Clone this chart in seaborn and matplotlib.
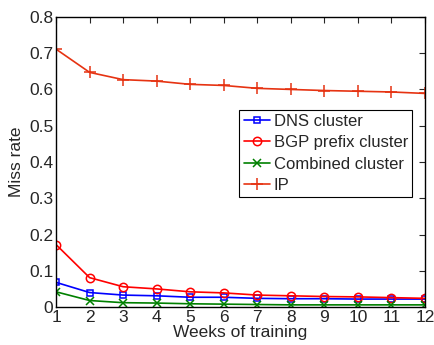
import matplotlib
matplotlib.use("Agg")
import matplotlib.pyplot as plt
import seaborn as sns
import pandas as pd

weeks = list(range(1, 13))
dns = [0.068, 0.040, 0.033, 0.031, 0.027, 0.027, 0.024, 0.023, 0.023, 0.022, 0.022, 0.022]
bgp = [0.172, 0.081, 0.056, 0.050, 0.042, 0.039, 0.033, 0.031, 0.029, 0.028, 0.026, 0.024]
combined = [0.042, 0.018, 0.012, 0.011, 0.009, 0.008, 0.007, 0.006, 0.006, 0.006, 0.006, 0.006]
ip = [0.711, 0.647, 0.627, 0.623, 0.614, 0.611, 0.603, 0.600, 0.597, 0.595, 0.593, 0.589]
labels = ["DNS cluster", "BGP prefix cluster", "Combined cluster", "IP"]
series = [dns, bgp, combined, ip]

sns.set_style("white")
plt.rcParams['font.family'] = ['Liberation Sans', 'DejaVu Sans']

rows = []
for lab, vals in zip(labels, series):
    for w, v in zip(weeks, vals):
        rows.append({"week": w, "rate": v, "series": lab})
df = pd.DataFrame(rows)

colors = {"DNS cluster": "#0000ff", "BGP prefix cluster": "#ff0000",
          "Combined cluster": "#008000", "IP": "#e63312"}
markers = {"DNS cluster": "s", "BGP prefix cluster": "o",
           "Combined cluster": "x", "IP": "+"}
msizes = {"DNS cluster": 4.5, "BGP prefix cluster": 6, "Combined cluster": 6, "IP": 8}

fig = plt.figure(figsize=(4.35, 3.45), dpi=100)
ax = fig.add_axes([0.129, 0.110, 0.848, 0.841])
for lab in labels:
    sub = df[df.series == lab]
    sns.lineplot(data=sub, x="week", y="rate", ax=ax, color=colors[lab],
                 marker=markers[lab], markersize=msizes[lab],
                 markerfacecolor="none", markeredgecolor=colors[lab],
                 markeredgewidth=1.1, linewidth=1.2, label=lab)

ax.set_xlim(1, 12)
ax.set_ylim(0, 0.8)
ax.set_xticks(weeks)
ax.set_yticks([0, 0.1, 0.2, 0.3, 0.4, 0.5, 0.6, 0.7, 0.8])
ax.set_yticklabels(["0", "0.1", "0.2", "0.3", "0.4", "0.5", "0.6", "0.7", "0.8"])
ax.tick_params(direction="in", top=True, right=True, labelsize=12.5, length=4, width=0.8, pad=2)
for s in ax.spines.values():
    s.set_linewidth(1.0)
    s.set_color("black")
ax.set_xlabel("Weeks of training", fontsize=12.5, labelpad=0)
ax.set_ylabel("Miss rate", fontsize=12.5, labelpad=4)

leg = ax.legend(loc="upper left", bbox_to_anchor=(0.497, 0.68), fontsize=12,
                frameon=True, fancybox=False, edgecolor="black", framealpha=1,
                borderpad=0.25, labelspacing=0.38, handlelength=1.6, handletextpad=0.2,
                borderaxespad=0)
leg.get_frame().set_linewidth(0.8)

fig.savefig("out.png", dpi=100)
